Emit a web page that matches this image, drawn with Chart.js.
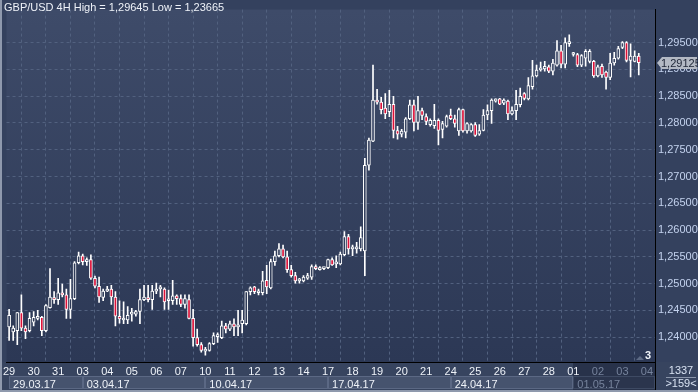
<!DOCTYPE html>
<html>
<head>
<meta charset="utf-8">
<script src="https://cdn.jsdelivr.net/npm/chart.js@4.4.1/dist/chart.umd.min.js"></script>
<style>
  html, body { margin: 0; padding: 0; background: #34415e; }
  #wrap { width: 698px; height: 392px; }
</style>
</head>
<body>
<div id="wrap"><canvas id="chart" width="698" height="392"></canvas></div>
<script>
// GBP/USD 4H candles, 6 per day, first one = 29.03.17 00:00
const dayLabels = ['29','30','31','03','04','05','06','07','10','11','12','13','14','17','18','19','20','21','24','25','26','27','28','01','02','03','04']
const weekStarts = [0, 18, 48, 78, 108, 138]
const weekLabels = ['29.03.17','03.04.17','10.04.17','17.04.17','24.04.17','01.05.17']
const yTicks = [1.24, 1.245, 1.25, 1.255, 1.26, 1.265, 1.27, 1.275, 1.28, 1.285, 1.29, 1.295]
const lastPrice = 1.29125

const opens = [
  1.2419, 1.2410, 1.2412, 1.2446, 1.2417, 1.2412, 1.2428, 1.2435, 1.2437, 1.2412,
  1.2455, 1.2474, 1.2470, 1.2483, 1.2479, 1.2452, 1.2472, 1.2539, 1.2552, 1.2541,
  1.2545, 1.2510, 1.2495, 1.2474, 1.2486, 1.2490, 1.2475, 1.2439, 1.2432, 1.2432,
  1.2443, 1.2443, 1.2448, 1.2470, 1.2474, 1.2470, 1.2486, 1.2490, 1.2490, 1.2468,
  1.2468, 1.2477, 1.2472, 1.2461, 1.2470, 1.2435, 1.2399, 1.2386, 1.2374, 1.2375,
  1.2388, 1.2401, 1.2399, 1.2421, 1.2415, 1.2425, 1.2419, 1.2425, 1.2425, 1.2485,
  1.2494, 1.2483, 1.2483, 1.2506, 1.2492, 1.2541, 1.2552, 1.2565, 1.2550, 1.2526,
  1.2515, 1.2505, 1.2505, 1.2510, 1.2512, 1.2532, 1.2526, 1.2528, 1.2530, 1.2545,
  1.2537, 1.2537, 1.2554, 1.2588, 1.2565, 1.2565, 1.2565, 1.2561, 1.2721, 1.2766,
  1.2843, 1.2839, 1.2828, 1.2821, 1.2835, 1.2786, 1.2779, 1.2783, 1.2808, 1.2834,
  1.2801, 1.2823, 1.2812, 1.2797, 1.2795, 1.2805, 1.2788, 1.2794, 1.2815, 1.2808,
  1.2785, 1.2825, 1.2785, 1.2785, 1.2797, 1.2779, 1.2786, 1.2815, 1.2823, 1.2841,
  1.2845, 1.2837, 1.2841, 1.2817, 1.2823, 1.2834, 1.2855, 1.2845, 1.2868, 1.2888,
  1.2899, 1.2901, 1.2905, 1.2897, 1.2908, 1.2935, 1.2910, 1.2948, 1.2928, 1.2928,
  1.2908, 1.2921, 1.2915, 1.2915, 1.2888, 1.2906, 1.2895, 1.2885, 1.2912, 1.2921,
  1.2941, 1.2950, 1.2917, 1.2915, 1.2925
]
const highs = [
  1.2452, 1.2421, 1.2446, 1.2479, 1.2421, 1.2446, 1.2448, 1.2450, 1.2439, 1.2461,
  1.2528, 1.2485, 1.2510, 1.2499, 1.2490, 1.2508, 1.2541, 1.2559, 1.2555, 1.2548,
  1.2554, 1.2514, 1.2512, 1.2490, 1.2495, 1.2497, 1.2485, 1.2468, 1.2466, 1.2457,
  1.2454, 1.2450, 1.2490, 1.2497, 1.2497, 1.2497, 1.2501, 1.2497, 1.2492, 1.2488,
  1.2506, 1.2479, 1.2479, 1.2479, 1.2479, 1.2452, 1.2415, 1.2390, 1.2381, 1.2390,
  1.2408, 1.2408, 1.2430, 1.2426, 1.2430, 1.2434, 1.2450, 1.2450, 1.2485, 1.2494,
  1.2495, 1.2490, 1.2523, 1.2534, 1.2546, 1.2561, 1.2575, 1.2572, 1.2561, 1.2534,
  1.2521, 1.2510, 1.2515, 1.2519, 1.2535, 1.2535, 1.2532, 1.2530, 1.2546, 1.2548,
  1.2552, 1.2559, 1.2597, 1.2592, 1.2572, 1.2577, 1.2606, 1.2734, 1.2772, 1.2908,
  1.2863, 1.2848, 1.2855, 1.2861, 1.2850, 1.2794, 1.2788, 1.2810, 1.2843, 1.2843,
  1.2850, 1.2828, 1.2817, 1.2808, 1.2835, 1.2808, 1.2803, 1.2815, 1.2826, 1.2815,
  1.2828, 1.2826, 1.2801, 1.2799, 1.2801, 1.2797, 1.2825, 1.2834, 1.2845, 1.2845,
  1.2846, 1.2845, 1.2843, 1.2830, 1.2861, 1.2865, 1.2857, 1.2885, 1.2917, 1.2908,
  1.2914, 1.2915, 1.2908, 1.2919, 1.2954, 1.2945, 1.2959, 1.29645, 1.2932, 1.2930,
  1.2928, 1.2937, 1.2937, 1.2917, 1.2908, 1.2910, 1.2897, 1.2930, 1.2932, 1.2943,
  1.2952, 1.2952, 1.2948, 1.2935, 1.2930
]
const lows = [
  1.2394, 1.2394, 1.2386, 1.2412, 1.2397, 1.2410, 1.2421, 1.2432, 1.2403, 1.2410,
  1.2454, 1.2463, 1.2461, 1.2475, 1.2435, 1.2435, 1.2470, 1.2537, 1.2535, 1.2534,
  1.2508, 1.2492, 1.2465, 1.2468, 1.2485, 1.2461, 1.2421, 1.2426, 1.2425, 1.2425,
  1.2430, 1.2439, 1.2425, 1.2468, 1.2466, 1.2452, 1.2481, 1.2475, 1.2452, 1.2452,
  1.2461, 1.2461, 1.2457, 1.2454, 1.2434, 1.2383, 1.2383, 1.2372, 1.23665, 1.2374,
  1.2386, 1.2390, 1.2397, 1.2408, 1.2412, 1.2403, 1.2403, 1.2408, 1.2423, 1.2479,
  1.2481, 1.2479, 1.2479, 1.2481, 1.2490, 1.2534, 1.2550, 1.2548, 1.2521, 1.2512,
  1.2501, 1.2501, 1.2503, 1.2508, 1.2508, 1.2526, 1.2525, 1.2526, 1.2528, 1.2534,
  1.2530, 1.2535, 1.2552, 1.2555, 1.2552, 1.2557, 1.2561, 1.2515, 1.2712, 1.2765,
  1.2835, 1.2817, 1.2808, 1.2812, 1.2772, 1.2770, 1.2774, 1.2772, 1.2806, 1.2785,
  1.2788, 1.2806, 1.2797, 1.2794, 1.2790, 1.2759, 1.2772, 1.2792, 1.2806, 1.2792,
  1.2777, 1.2783, 1.2781, 1.2783, 1.2775, 1.2777, 1.2785, 1.2806, 1.2799, 1.2839,
  1.2834, 1.2834, 1.2806, 1.2815, 1.2806, 1.2830, 1.2843, 1.2843, 1.2863, 1.2886,
  1.2897, 1.2897, 1.2894, 1.2890, 1.2906, 1.2903, 1.2903, 1.2943, 1.2925, 1.2905,
  1.2905, 1.2906, 1.2912, 1.2885, 1.2886, 1.2885, 1.2863, 1.2881, 1.2908, 1.2919,
  1.2939, 1.2914, 1.2886, 1.2914, 1.2890
]
const closes = [
  1.2441, 1.2417, 1.2446, 1.2417, 1.2410, 1.2435, 1.2437, 1.2437, 1.2412, 1.2459,
  1.2475, 1.2470, 1.2483, 1.2479, 1.2452, 1.2472, 1.2539, 1.2552, 1.2541, 1.2545,
  1.2510, 1.2495, 1.2475, 1.2486, 1.2490, 1.2475, 1.2439, 1.2434, 1.2434, 1.2441,
  1.2446, 1.2448, 1.2470, 1.2475, 1.2470, 1.2486, 1.2490, 1.2494, 1.2466, 1.2470,
  1.2477, 1.2472, 1.2461, 1.2472, 1.2435, 1.2399, 1.2386, 1.2375, 1.2377, 1.2388,
  1.2403, 1.2403, 1.2421, 1.2415, 1.2425, 1.2419, 1.2423, 1.2432, 1.2485, 1.2492,
  1.2485, 1.2485, 1.2505, 1.2494, 1.2541, 1.2552, 1.2565, 1.2550, 1.2526, 1.2515,
  1.2505, 1.2506, 1.2512, 1.2515, 1.2532, 1.2528, 1.2528, 1.2529, 1.2545, 1.2535,
  1.2538, 1.2555, 1.2588, 1.2565, 1.2566, 1.2566, 1.2586, 1.2721, 1.2768, 1.2843,
  1.2839, 1.2825, 1.2817, 1.2835, 1.2786, 1.2779, 1.2785, 1.2808, 1.2834, 1.2801,
  1.2823, 1.2814, 1.2803, 1.2805, 1.2805, 1.2786, 1.2799, 1.2812, 1.2808, 1.2799,
  1.2825, 1.2785, 1.2799, 1.2797, 1.2777, 1.2786, 1.2815, 1.2823, 1.2843, 1.2845,
  1.2835, 1.2843, 1.2817, 1.2823, 1.2835, 1.2850, 1.2846, 1.2870, 1.2888, 1.2899,
  1.2903, 1.2906, 1.2897, 1.2912, 1.2935, 1.2910, 1.2950, 1.2952, 1.2930, 1.2908,
  1.2926, 1.2934, 1.2934, 1.2888, 1.2905, 1.2890, 1.2885, 1.2912, 1.2921, 1.2939,
  1.2950, 1.2917, 1.2925, 1.2925, 1.29125
]

const BG_TOP = [62, 75, 105]
const BG_BOTTOM = [44, 56, 85]
const RED = '#dc1239'
const GRID = '#52617f'

function bgAt(chart, y) {
  const a = chart.chartArea
  if (!a) return 'rgb(52,65,94)'
  const t = Math.min(1, Math.max(0, (y - a.top) / (a.bottom - a.top)))
  const c = BG_TOP.map((v, k) => Math.round(v + (BG_BOTTOM[k] - v) * t))
  return `rgb(${c[0]},${c[1]},${c[2]})`
}

const wicks = highs.map((h, i) => ({ x: i, y: [lows[i], h] }))
const bodies = opens.map((o, i) => ({ x: i, y: [o, closes[i]] }))

const panels = {
  id: 'panels',
  beforeDraw(chart) {
    const { ctx, chartArea: a, width, height, scales } = chart
    const xs = scales.x
    ctx.save()
    ctx.fillStyle = '#34415e'
    ctx.fillRect(0, 0, width, height)
    const g = ctx.createLinearGradient(0, a.top, 0, a.bottom)
    g.addColorStop(0, `rgb(${BG_TOP.join(',')})`)
    g.addColorStop(1, `rgb(${BG_BOTTOM.join(',')})`)
    ctx.fillStyle = g
    ctx.fillRect(a.left, a.top, a.right - a.left, a.bottom - a.top)

    // bottom band with week boxes
    const rowTop = scales.x2.top
    ctx.fillStyle = '#37445f'
    ctx.fillRect(0, a.bottom, a.right, height - a.bottom)
    weekStarts.forEach((s, k) => {
      const x0 = Math.max(5, Math.round(xs.getPixelForValue(s)))
      const x1 = k < weekStarts.length - 1 ? Math.round(xs.getPixelForValue(weekStarts[k + 1])) : Math.round(a.right)
      const last = k === weekStarts.length - 1
      if (last) {
        ctx.fillStyle = '#28324a'
        ctx.fillRect(x0, a.bottom + 1, x1 - x0, height - a.bottom)
      }
      ctx.fillStyle = last ? '#2b354d' : '#46536e'
      ctx.fillRect(x0, rowTop, x1 - x0, height - rowTop - 3)
      ctx.strokeStyle = last ? '#3e4a63' : '#5b6884'
      ctx.lineWidth = 1
      ctx.strokeRect(x0 + 0.5, rowTop + 0.5, x1 - x0 - 1, height - rowTop - 4)
    })
    // bottom-right cell
    ctx.fillStyle = '#37445f'
    ctx.fillRect(a.right, a.bottom, width - a.right, height - a.bottom)
    ctx.restore()
  },
  afterDraw(chart) {
    const { ctx, chartArea: a, width, height, scales } = chart
    ctx.save()
    // separators
    ctx.strokeStyle = '#000'
    ctx.lineWidth = 1
    ctx.beginPath()
    ctx.moveTo(Math.round(a.right) + 0.5, a.bottom)
    ctx.lineTo(Math.round(a.right) + 0.5, height)
    ctx.stroke()

    // title
    ctx.font = '11px "Liberation Sans", Arial, sans-serif'
    ctx.fillStyle = '#eef2f8'
    ctx.textBaseline = 'middle'
    ctx.textAlign = 'left'
    ctx.fillText('GBP/USD 4H High = 1,29645 Low = 1,23665', 4, 8)

    // last price tag
    const py = Math.round(scales.y.getPixelForValue(lastPrice))
    const tx = Math.round(a.right) + 2
    ctx.fillStyle = '#b3b9c4'
    ctx.beginPath()
    ctx.moveTo(tx, py)
    ctx.lineTo(tx + 5, py - 6)
    ctx.lineTo(tx + 40, py - 6)
    ctx.lineTo(tx + 40, py + 6)
    ctx.lineTo(tx + 5, py + 6)
    ctx.closePath()
    ctx.fill()
    ctx.fillStyle = '#1c2435'
    ctx.fillText(lastPrice.toFixed(5).replace('.', ','), tx + 4, py + 1)

    // small marker near the bottom right of the plot
    ctx.fillStyle = '#5d6a84'
    ctx.beginPath()
    ctx.moveTo(a.right - 19, a.bottom - 2)
    ctx.lineTo(a.right - 15, a.bottom - 6)
    ctx.lineTo(a.right - 11, a.bottom - 2)
    ctx.closePath()
    ctx.fill()
    ctx.font = 'bold 11px "Liberation Sans", Arial, sans-serif'
    ctx.fillStyle = '#eef2f8'
    ctx.fillText('3', a.right - 10, a.bottom - 6)

    // bottom-right counter
    ctx.font = '11px "Liberation Sans", Arial, sans-serif'
    ctx.textAlign = 'center'
    ctx.fillStyle = '#d8e2f2'
    const cx = a.right + 26
    ctx.fillText('1337', cx, a.bottom + 9)
    ctx.fillText('>159<', cx, a.bottom + 22)
    ctx.strokeStyle = '#8a95aa'
    ctx.beginPath()
    ctx.moveTo(cx - 15, a.bottom + 15.5)
    ctx.lineTo(cx + 15, a.bottom + 15.5)
    ctx.stroke()

    // window frame
    ctx.fillStyle = '#8f99ad'
    ctx.fillRect(0, 0, 2, height)
    ctx.fillRect(0, height - 2, width, 2)
    ctx.restore()
  }
}

const font = { family: '"Liberation Sans", Arial, sans-serif', size: 11 }

new Chart(document.getElementById('chart'), {
  type: 'bar',
  data: {
    datasets: [
      {
        label: 'bodies',
        data: bodies,
        order: 0,
        grouped: false,
        barThickness: 3,
        minBarLength: 2,
        borderWidth: 1,
        borderSkipped: false,
        borderColor: '#ffffff',
        backgroundColor: (c) => {
          const i = c.dataIndex
          if (closes[i] < opens[i]) return RED
          const y = c.chart.scales.y ? c.chart.scales.y.getPixelForValue((opens[i] + closes[i]) / 2) : 0
          return bgAt(c.chart, y)
        }
      },
      {
        label: 'wicks',
        data: wicks,
        order: 1,
        grouped: false,
        barThickness: 1,
        borderWidth: 0,
        backgroundColor: '#ffffff'
      }
    ]
  },
  options: {
    responsive: false,
    animation: false,
    events: [],
    layout: { padding: 0 },
    plugins: { legend: { display: false }, tooltip: { enabled: false }, title: { display: false } },
    scales: {
      x: {
        type: 'linear',
        position: 'bottom',
        weight: 0,
        min: -0.63,
        max: 157.97,
        offset: false,
        afterBuildTicks: (s) => { s.ticks = dayLabels.map((d, k) => ({ value: k * 6 })) },
        afterFit: (s) => { s.height = 14 },
        grid: { color: GRID, drawTicks: false, lineWidth: 1 },
        border: { color: '#000000', width: 1, dash: [3, 3] },
        ticks: {
          autoSkip: false,
          maxRotation: 0,
          padding: 3,
          font,
          color: (c) => c.index >= 24 ? '#76839c' : '#eef2f8',
          callback: (v, k) => dayLabels[k]
        }
      },
      x2: {
        type: 'linear',
        position: 'bottom',
        weight: 1,
        min: -0.63,
        max: 157.97,
        offset: false,
        afterBuildTicks: (s) => { s.ticks = weekStarts.map((v) => ({ value: v })) },
        afterFit: (s) => { s.height = 16 },
        grid: { display: false, drawTicks: false },
        border: { display: false },
        ticks: {
          autoSkip: false,
          maxRotation: 0,
          padding: 2,
          align: 'start',
          labelOffset: 4,
          font,
          color: (c) => c.index === weekStarts.length - 1 ? '#76839c' : '#eef2f8',
          callback: (v, k) => weekLabels[k]
        }
      },
      y: {
        type: 'linear',
        position: 'right',
        min: 1.23536,
        max: 1.30118,
        afterBuildTicks: (s) => { s.ticks = yTicks.map((v) => ({ value: v })) },
        afterFit: (s) => { s.width = 43 },
        grid: { color: GRID, drawTicks: false, lineWidth: 1 },
        border: { color: '#000000', width: 1, dash: [3, 3] },
        ticks: {
          padding: 3,
          font,
          color: '#c3d2ee',
          callback: (v) => v.toFixed(5).replace('.', ',')
        }
      }
    }
  },
  plugins: [panels]
})
</script>
</body>
</html>
